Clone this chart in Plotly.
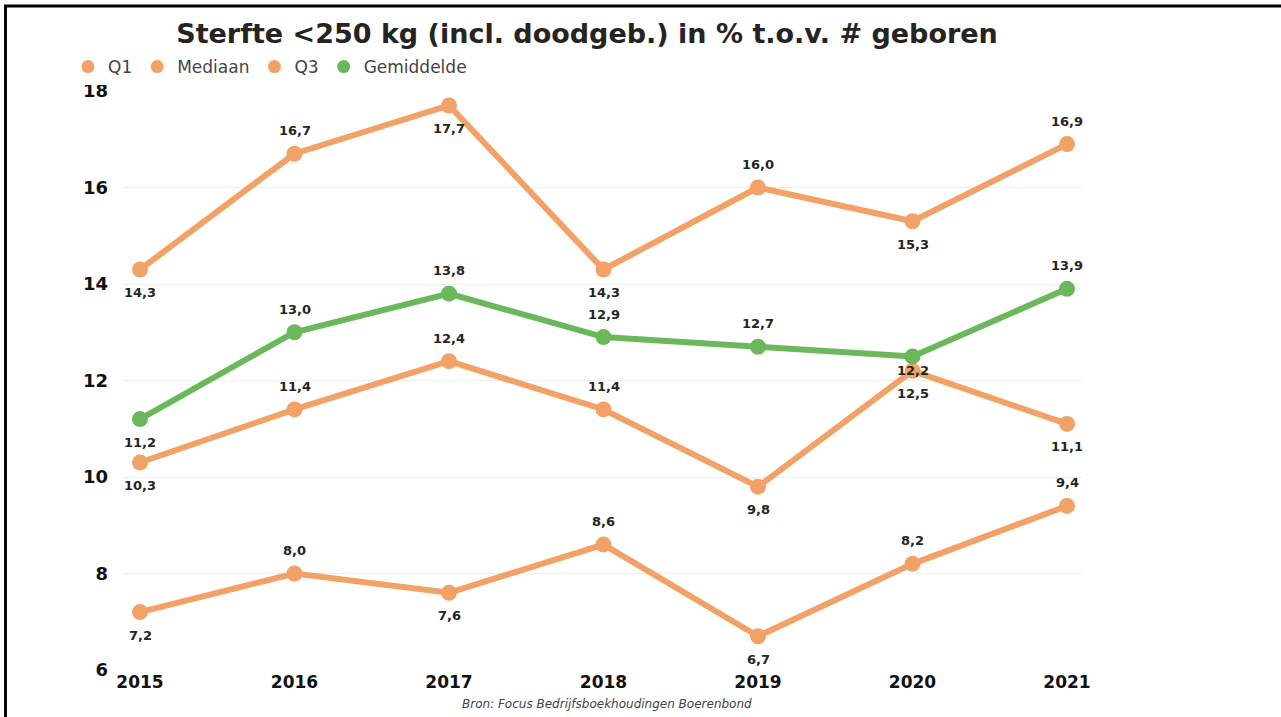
import plotly.graph_objects as go

years = [2015, 2016, 2017, 2018, 2019, 2020, 2021]
q1 = [7.2, 8.0, 7.6, 8.6, 6.7, 8.2, 9.4]
mediaan = [10.3, 11.4, 12.4, 11.4, 9.8, 12.2, 11.1]
q3 = [14.3, 16.7, 17.7, 14.3, 16.0, 15.3, 16.9]
gemiddelde = [11.2, 13.0, 13.8, 12.9, 12.7, 12.5, 13.9]
y_ticks = [6, 8, 10, 12, 14, 16, 18]

# label placement per point (t = above, b = below)
pos_q1 = ["b", "t", "b", "t", "b", "t", "t"]
pos_med = ["b", "t", "t", "t", "b", "m", "b"]
pos_q3 = ["b", "t", "b", "b", "t", "b", "t"]
pos_gem = ["b", "t", "t", "t", "t", "bb", "t"]

ORANGE = "#F2A266"
GREEN = "#6BB85C"
FONT = "DejaVu Sans"
W, H = 1281, 717
L, R, T, B = 123, 1082, 91, 670

fig = go.Figure()
series = [("Q1", q1, ORANGE, pos_q1), ("Mediaan", mediaan, ORANGE, pos_med),
          ("Q3", q3, ORANGE, pos_q3), ("Gemiddelde", gemiddelde, GREEN, pos_gem)]

for name, vals, col, _ in series:
    fig.add_trace(go.Scatter(x=years, y=vals, mode="lines+markers", name=name,
                             line=dict(color=col, width=6), marker=dict(color=col, size=16),
                             showlegend=False, hoverinfo="x+y"))
for name, vals, col, _ in series:
    fig.add_trace(go.Scatter(x=[None], y=[None], mode="markers", name=name,
                             marker=dict(color=col, size=13), showlegend=True))

shift = {"t": 23, "b": -23, "m": 0, "bb": -37}
annotations = []
for name, vals, col, poss in series:
    for x, v, p in zip(years, vals, poss):
        annotations.append(dict(x=x, y=v, xref="x", yref="y", text=f"{v:.1f}".replace(".", ","),
                                showarrow=False, yshift=shift[p],
                                font=dict(family=FONT, size=13, color="#252423", weight="bold")))

annotations.append(dict(x=(607 - L) / (R - L), y=(B - 695) / (B - T), xref="paper", yref="paper",
                        yanchor="top",
                        text="<i>Bron: Focus Bedrijfsboekhoudingen Boerenbond</i>", showarrow=False,
                        font=dict(family=FONT, size=12, color="#444444")))


def px(xp):
    return (xp - L) / (R - L)


def py(yp):
    return (B - yp) / (B - T)


shapes = [
    dict(type="line", xref="paper", yref="paper", x0=px(4), x1=px(1290), y0=py(6), y1=py(6),
         line=dict(color="black", width=3)),
    dict(type="line", xref="paper", yref="paper", x0=px(5.5), x1=px(5.5), y0=py(5), y1=py(725),
         line=dict(color="black", width=3)),
]

fig.update_layout(
    width=W, height=H,
    margin=dict(l=L, r=W - R, t=T, b=H - B, autoexpand=False),
    paper_bgcolor="white", plot_bgcolor="white",
    separators=",.",
    title=dict(text="<b>Sterfte <250 kg (incl. doodgeb.) in % t.o.v. # geboren</b>",
               x=587 / W, xanchor="center", xref="container",
               y=1 - 34 / H, yanchor="middle", yref="container",
               font=dict(family=FONT, size=27, color="#252423")),
    legend=dict(orientation="h", xref="container", yref="container",
                x=68 / W, xanchor="left", y=1 - 67 / H, yanchor="middle",
                font=dict(family=FONT, size=17, color="#444444"),
                itemwidth=30, tracegroupgap=0),
    xaxis=dict(range=[2015 - 17 / 154.5, 2021 + 15 / 154.5], tickvals=years,
               ticktext=[str(y) for y in years], showgrid=False, zeroline=False, showline=False,
               tickfont=dict(family=FONT, size=17, color="#111111", weight="bold"),
               ticks="", ticklabelstandoff=0),
    yaxis=dict(range=[6, 18], tickvals=y_ticks, showgrid=True, gridcolor="#EEEEEE", gridwidth=1,
               zeroline=False, showline=False,
               tickfont=dict(family=FONT, size=18, color="#111111", weight="bold"),
               ticks="", ticklabelstandoff=14),
    annotations=annotations,
    shapes=shapes,
)

fig.write_html("out.html", config={"displayModeBar": False},
               post_script="document.body.style.margin='0';")
